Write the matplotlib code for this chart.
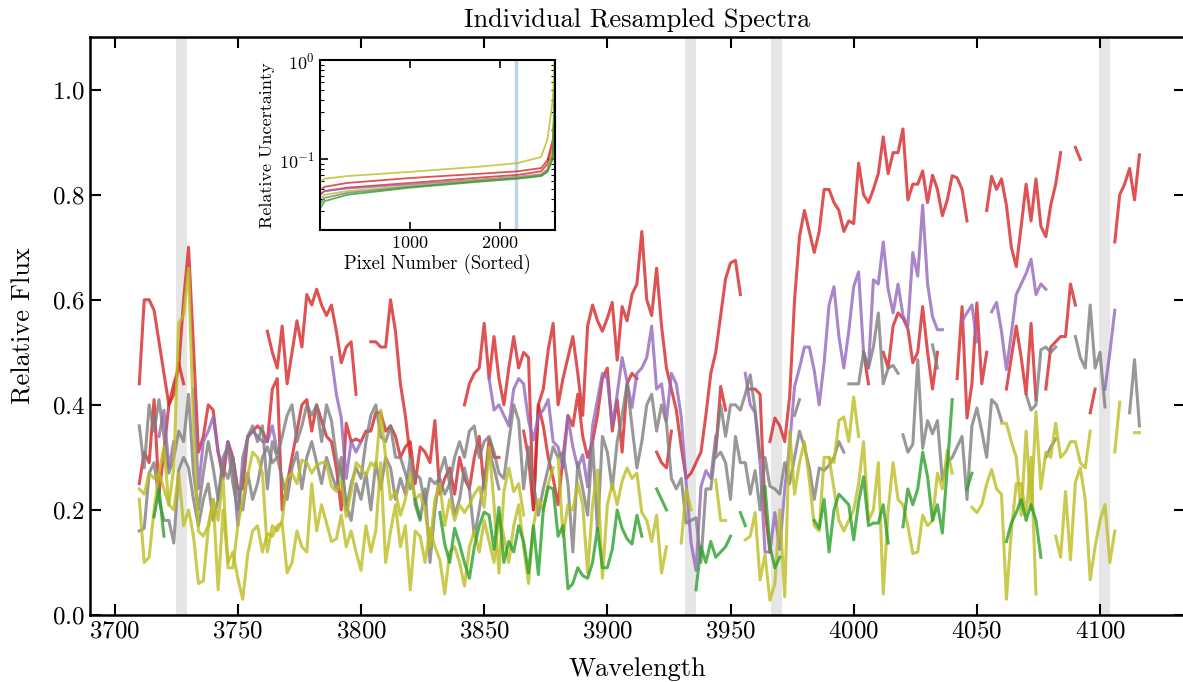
import numpy as np
import matplotlib
matplotlib.use("Agg")
import matplotlib.pyplot as plt

plt.rcParams['font.family'] = 'serif'
plt.rcParams['font.serif'] = ['cmr10']
plt.rcParams['mathtext.fontset'] = 'cm'
plt.rcParams['axes.formatter.use_mathtext'] = True

# common resampled wavelength grid (2 A steps)
wave = np.arange(3710, 4122, 2)

# each spectrum: list of (start wavelength, flux values) for the unmasked stretches
red_hi = [
    (3710, [0.44, 0.60, 0.60, 0.58, 0.52, 0.46, 0.40, 0.42, 0.48, 0.44]),
    (3762, [0.54, 0.50, 0.47, 0.55, 0.44, 0.50, 0.56, 0.51, 0.61, 0.59, 0.62, 0.59, 0.57, 0.59,
            0.54, 0.48, 0.51, 0.52, 0.42]),
    (3804, [0.52, 0.52, 0.51, 0.51, 0.60, 0.54, 0.44, 0.38, 0.30]),
    (3842, [0.40, 0.44, 0.46, 0.47, 0.555, 0.45, 0.53, 0.45, 0.40, 0.47, 0.53, 0.47, 0.50, 0.49, 0.20,
            0.40, 0.43, 0.505, 0.555, 0.40, 0.45, 0.49, 0.53, 0.46, 0.38, 0.55, 0.59, 0.56, 0.54,
            0.565, 0.595, 0.485, 0.587, 0.56, 0.61, 0.63, 0.73, 0.60, 0.57, 0.66, 0.55, 0.47, 0.43,
            0.39, 0.32, 0.26, 0.27, 0.29, 0.31, 0.38, 0.46, 0.50, 0.57, 0.64, 0.67, 0.675, 0.61]),
    (3966, [0.33, 0.375, 0.36, 0.33, 0.415, 0.60, 0.72, 0.77, 0.73, 0.69, 0.73, 0.81, 0.81, 0.785,
            0.77, 0.73, 0.75, 0.745, 0.86, 0.80, 0.785, 0.81, 0.84, 0.91, 0.84, 0.88, 0.88, 0.925,
            0.79, 0.82, 0.82, 0.845, 0.785, 0.837, 0.81, 0.76, 0.79, 0.836, 0.832, 0.81, 0.75]),
    (4054, [0.77, 0.835, 0.81, 0.83, 0.78, 0.70, 0.663, 0.74, 0.82, 0.75, 0.83, 0.74, 0.72, 0.78,
            0.82, 0.88]),
    (4090, [0.89, 0.867]),
    (4106, [0.71, 0.80, 0.82, 0.85, 0.79, 0.876]),
]

red_lo = [
    (3710, [0.25, 0.31, 0.29, 0.41, 0.23, 0.31, 0.40, 0.44, 0.47, 0.60, 0.70, 0.51, 0.31, 0.34,
            0.40, 0.39, 0.31, 0.26, 0.33, 0.30, 0.24, 0.24, 0.34, 0.35, 0.36, 0.35, 0.33, 0.43,
            0.45, 0.20, 0.25, 0.30, 0.35, 0.40, 0.41, 0.35, 0.40, 0.37, 0.34, 0.33, 0.28, 0.20,
            0.365, 0.33, 0.335, 0.33, 0.35, 0.35, 0.385, 0.385, 0.35, 0.36, 0.34, 0.30, 0.32, 0.33,
            0.25, 0.32, 0.31, 0.29, 0.37, 0.23, 0.26, 0.28, 0.23, 0.30, 0.26, 0.24, 0.30, 0.34,
            0.24, 0.335, 0.30, 0.30]),
    (3866, [0.35, 0.30, 0.20, 0.40, 0.36, 0.30, 0.26, 0.21, 0.30, 0.38, 0.36, 0.42, 0.34, 0.30,
            0.33, 0.38, 0.45, 0.47, 0.35, 0.41, 0.31, 0.44, 0.46, 0.45]),
    (3920, [0.31, 0.29, 0.28, 0.35]),
    (3944, [0.31, 0.435, 0.39]),
    (3958, [0.43, 0.43, 0.42, 0.20, 0.12]),
    (4004, [0.50, 0.44]),
    (4012, [0.50, 0.47, 0.55, 0.575, 0.565, 0.545, 0.48, 0.50, 0.587, 0.50, 0.43, 0.50]),
    (4042, [0.45, 0.587, 0.375, 0.44, 0.594, 0.44, 0.50]),
    (4062, [0.43, 0.49, 0.55, 0.49, 0.42, 0.555, 0.41]),
    (4078, [0.43, 0.51, 0.52, 0.53, 0.53, 0.63, 0.59]),
    (4096, [0.385, 0.43]),
]

purple = [
    (3718, [0.34, 0.39, 0.28, 0.33]),
    (3732, [0.43, 0.24, 0.33, 0.35, 0.377, 0.31, 0.28, 0.33, 0.28, 0.17, 0.30, 0.337, 0.35, 0.34,
            0.33, 0.33, 0.36, 0.31]),
    (3788, [0.49, 0.42, 0.375, 0.26, 0.33, 0.31, 0.33]),
    (3852, [0.45, 0.39, 0.40, 0.38, 0.36, 0.43, 0.45, 0.44, 0.37, 0.333, 0.38, 0.39, 0.41, 0.33,
            0.32, 0.28, 0.377, 0.32, 0.28, 0.305, 0.244, 0.36, 0.41, 0.46, 0.45, 0.36, 0.42, 0.49,
            0.445, 0.395, 0.46, 0.47, 0.49, 0.55, 0.43, 0.44, 0.37, 0.46, 0.44, 0.377, 0.25, 0.137,
            0.085, 0.244, 0.275, 0.26, 0.34]),
    (3956, [0.46, 0.40, 0.385, 0.29, 0.12, 0.12, 0.195, 0.125, 0.24, 0.325, 0.435, 0.47, 0.51,
            0.51, 0.465, 0.40, 0.48, 0.59, 0.625, 0.53, 0.47, 0.54, 0.625, 0.653, 0.50, 0.47, 0.638,
            0.63, 0.71, 0.62, 0.575, 0.63, 0.57, 0.55, 0.69, 0.645, 0.78, 0.63, 0.568, 0.543, 0.543]),
    (4044, [0.56, 0.575, 0.59, 0.52]),
    (4056, [0.577, 0.595, 0.54, 0.467, 0.535, 0.61, 0.63, 0.65, 0.677, 0.61, 0.63, 0.62]),
    (4102, [0.43, 0.50, 0.58]),
]

gray_a = [
    (3710, [0.36, 0.28, 0.40, 0.35, 0.41, 0.34, 0.27, 0.30, 0.35, 0.33, 0.42, 0.27, 0.20, 0.27,
            0.33, 0.28, 0.22, 0.30, 0.32, 0.25, 0.20, 0.27, 0.34, 0.36, 0.33, 0.36, 0.24, 0.33,
            0.30, 0.34, 0.38, 0.40, 0.33, 0.36, 0.40, 0.38, 0.40, 0.33, 0.40, 0.37, 0.30, 0.27,
            0.20, 0.25, 0.28, 0.26, 0.33, 0.38, 0.40, 0.34, 0.33, 0.36, 0.30, 0.30, 0.27, 0.24,
            0.27, 0.26, 0.21, 0.26, 0.25, 0.26, 0.23, 0.25, 0.30, 0.33, 0.30, 0.35, 0.36, 0.30,
            0.33, 0.34, 0.31, 0.27, 0.26, 0.33, 0.40, 0.37, 0.24, 0.32, 0.25, 0.19, 0.24, 0.28,
            0.32, 0.30, 0.31, 0.25, 0.12, 0.29, 0.24, 0.19, 0.33, 0.16, 0.34, 0.31, 0.24, 0.33,
            0.38, 0.44, 0.36, 0.28, 0.33, 0.40, 0.42, 0.35, 0.40, 0.365, 0.26, 0.24, 0.26, 0.175,
            0.18, 0.185, 0.10, 0.24, 0.24, 0.32, 0.40, 0.34, 0.40, 0.40, 0.39, 0.42, 0.457, 0.39,
            0.30]),
    (3976, [0.38, 0.41]),
    (3998, [0.44, 0.44, 0.44, 0.50, 0.47, 0.51, 0.575, 0.44, 0.47, 0.475, 0.46]),
    (4032, [0.514, 0.47]),
    (4070, [0.42, 0.39, 0.40, 0.505, 0.51, 0.50, 0.51]),
    (4090, [0.53, 0.49, 0.47, 0.59, 0.47, 0.50, 0.396]),
    (4112, [0.385, 0.486, 0.36]),
]

gray_b = [
    (3710, [0.16, 0.165, 0.27, 0.29, 0.22, 0.18, 0.18, 0.137, 0.276, 0.30, 0.28, 0.22, 0.17, 0.22,
            0.25, 0.18, 0.22, 0.28, 0.26, 0.30, 0.23, 0.20, 0.27, 0.22, 0.25, 0.30, 0.32, 0.29,
            0.30, 0.26, 0.22, 0.28, 0.31, 0.24, 0.30, 0.33, 0.29, 0.25, 0.30, 0.27, 0.24, 0.30,
            0.21, 0.18, 0.25, 0.22, 0.27, 0.20, 0.29, 0.24, 0.30, 0.28, 0.22, 0.26, 0.23, 0.30,
            0.21, 0.18, 0.24, 0.10, 0.20, 0.27, 0.30, 0.25, 0.19, 0.22, 0.28, 0.24, 0.15, 0.20,
            0.26, 0.31, 0.28, 0.24]),
    (3944, [0.30, 0.31, 0.29, 0.22, 0.34, 0.29, 0.29, 0.23, 0.275, 0.20, 0.30, 0.245, 0.24, 0.23,
            0.29, 0.25, 0.30, 0.35, 0.32, 0.28, 0.22, 0.28, 0.275, 0.285, 0.30, 0.33, 0.31]),
    (4020, [0.343, 0.31, 0.325, 0.486, 0.317, 0.37, 0.345, 0.37, 0.257, 0.29, 0.30, 0.32, 0.34,
            0.22, 0.36, 0.394, 0.35, 0.30, 0.41, 0.40, 0.37]),
    (4078, [0.30, 0.32, 0.335]),
]

yellow_a = [
    (3710, [0.24, 0.23, 0.27, 0.26, 0.27, 0.24, 0.21, 0.28, 0.556, 0.57, 0.66, 0.36, 0.16, 0.15,
            0.17, 0.22, 0.18, 0.26, 0.09, 0.09, 0.17, 0.22, 0.265, 0.31, 0.30, 0.27, 0.12, 0.17,
            0.16, 0.18, 0.26, 0.27, 0.25, 0.295, 0.29, 0.27, 0.285, 0.29, 0.29, 0.245, 0.235,
            0.255, 0.187, 0.235, 0.29, 0.28, 0.265, 0.29, 0.28, 0.39, 0.30, 0.22, 0.235, 0.19,
            0.22, 0.27, 0.22, 0.23, 0.20, 0.13, 0.22, 0.25, 0.17, 0.22, 0.18, 0.21, 0.195, 0.21,
            0.23, 0.244, 0.205, 0.32, 0.21, 0.08, 0.235, 0.28, 0.235, 0.25, 0.19]),
    (3880, [0.30, 0.15, 0.21, 0.20, 0.25, 0.21, 0.08, 0.21, 0.276, 0.07, 0.21, 0.25, 0.21, 0.255,
            0.28, 0.26, 0.27]),
    (3914, [0.195, 0.18, 0.14, 0.19, 0.08, 0.13]),
    (3930, [0.137, 0.24, 0.20]),
    (3944, [0.257, 0.18, 0.18]),
    (3956, [0.143, 0.15, 0.195, 0.067, 0.115, 0.028, 0.06, 0.20, 0.035, 0.35, 0.23, 0.29, 0.33,
            0.257, 0.17, 0.16, 0.30, 0.30, 0.29, 0.37, 0.377, 0.33, 0.415, 0.34]),
    (4060, [0.365, 0.365, 0.33, 0.30, 0.19, 0.35, 0.20, 0.387, 0.24, 0.31, 0.30, 0.365, 0.30, 0.31,
            0.33, 0.33, 0.29, 0.28, 0.35]),
    (4106, [0.31, 0.405]),
    (4114, [0.347, 0.347]),
]

yellow_b = [
    (3710, [0.22, 0.10, 0.11, 0.20, 0.27, 0.32, 0.21, 0.20, 0.27, 0.17, 0.20, 0.15, 0.06, 0.065,
            0.165, 0.22, 0.048, 0.20, 0.10, 0.12, 0.07, 0.03, 0.115, 0.16, 0.17, 0.12, 0.155, 0.15,
            0.17, 0.175, 0.08, 0.10, 0.16, 0.13, 0.12, 0.25, 0.16, 0.21, 0.175, 0.14, 0.145, 0.19,
            0.13, 0.16, 0.12, 0.085, 0.17, 0.12, 0.16, 0.29, 0.10, 0.16, 0.21, 0.13, 0.17, 0.048,
            0.16, 0.15, 0.10, 0.165, 0.13, 0.105, 0.04, 0.12, 0.13, 0.10, 0.055, 0.13, 0.16, 0.12,
            0.18, 0.14, 0.10, 0.19, 0.15, 0.10, 0.17, 0.21, 0.13, 0.06, 0.17, 0.22, 0.20, 0.25,
            0.28]),
    (3990, [0.30, 0.24, 0.18, 0.16, 0.18, 0.20, 0.25, 0.33, 0.18, 0.20, 0.29, 0.04, 0.20, 0.29,
            0.22, 0.21, 0.17, 0.117, 0.12, 0.19, 0.17, 0.18, 0.27, 0.24, 0.314, 0.27]),
    (4048, [0.205, 0.195, 0.21, 0.25, 0.277, 0.24, 0.23, 0.03, 0.16, 0.25, 0.25, 0.19, 0.30, 0.04]),
    (4082, [0.15, 0.11, 0.235, 0.105, 0.253, 0.28, 0.22, 0.067, 0.13, 0.18, 0.21, 0.10, 0.16]),
]

green = [
    (3716, [0.187, 0.24, 0.15]),
    (3822, [0.22, 0.185]),
    (3832, [0.195, 0.135, 0.10, 0.165, 0.135, 0.10, 0.07, 0.13, 0.17, 0.196, 0.19, 0.125, 0.205,
            0.10, 0.14, 0.12, 0.17, 0.14, 0.08, 0.17, 0.077, 0.20, 0.244, 0.24, 0.15, 0.17, 0.05,
            0.06, 0.09, 0.075, 0.07, 0.10, 0.165, 0.09, 0.09, 0.125, 0.20, 0.165, 0.145, 0.135,
            0.19, 0.15]),
    (3920, [0.24, 0.22, 0.20]),
    (3936, [0.048, 0.13, 0.10, 0.14, 0.11, 0.12, 0.13, 0.15]),
    (3954, [0.195, 0.17]),
    (3964, [0.244, 0.13, 0.09, 0.11]),
    (3984, [0.18, 0.165, 0.22, 0.12, 0.20, 0.23, 0.22, 0.21, 0.143, 0.215, 0.263, 0.17, 0.175,
            0.175, 0.21, 0.137]),
    (4020, [0.168, 0.24, 0.21, 0.24, 0.31, 0.263, 0.18, 0.21, 0.156, 0.28, 0.41]),
    (4046, [0.24, 0.27]),
    (4062, [0.14, 0.175, 0.195, 0.22, 0.18, 0.21, 0.18, 0.11]),
]

# masked lines: [OII], Ca K, Ca H, H-delta
mask_lines = [3727.1, 3933.7, 3968.5, 4101.7]
mask_width = 4.5

# inset: sorted relative uncertainty per spectrum
pix = [1, 50, 300, 1000, 1800, 2200, 2460, 2530, 2590, 2610]
unc_yellow_a = [0.059, 0.064, 0.068, 0.075, 0.085, 0.092, 0.106, 0.16, 0.40, 1.0]
unc_red_hi = [0.049, 0.053, 0.058, 0.065, 0.072, 0.076, 0.082, 0.098, 0.16, 0.30]
unc_red_lo = [0.044, 0.048, 0.052, 0.058, 0.066, 0.070, 0.076, 0.090, 0.14, 0.20]
unc_purple = [0.045, 0.048, 0.051, 0.056, 0.063, 0.067, 0.071, 0.080, 0.12, 0.35]
unc_yellow_b = [0.040, 0.044, 0.048, 0.054, 0.062, 0.066, 0.070, 0.078, 0.13, 0.55]
unc_gray = [0.036, 0.041, 0.046, 0.053, 0.061, 0.065, 0.069, 0.076, 0.11, 0.40]
unc_green = [0.032, 0.038, 0.044, 0.052, 0.060, 0.064, 0.068, 0.075, 0.10, 0.50]
pix_cut = 2180


def fill(segments):
    flux = np.full(wave.size, np.nan)
    for start, vals in segments:
        i = (start - 3710) // 2
        flux[i:i + len(vals)] = vals
    return flux


RED, PURPLE, GRAY, OLIVE, GREEN = '#d62728', '#9467bd', '#7f7f7f', '#bcbd22', '#2ca02c'

fig = plt.figure(figsize=(11.83, 6.82), dpi=100)
# right spine sits just past the image edge, as in the original
ax = fig.add_axes([0.0761, 0.0982, 0.9256, 0.8475])

for c in mask_lines:
    ax.axvspan(c - mask_width / 2, c + mask_width / 2, color='0.9', lw=0, zorder=0)

spectra = [(red_hi, RED), (red_lo, RED), (purple, PURPLE), (gray_a, GRAY), (gray_b, GRAY),
           (yellow_a, OLIVE), (yellow_b, OLIVE), (green, GREEN)]
for segs, col in spectra:
    ax.plot(wave, fill(segs), color=col, lw=2.2, alpha=0.8)

ax.set_xlim(3690, 4134.5)
ax.set_ylim(0, 1.1)
ax.set_xticks(np.arange(3700, 4101, 50))
ax.set_yticks(np.arange(0, 1.01, 0.2))
ax.tick_params(direction='in', top=True, right=True, length=8, width=1.5, labelsize=18)
for s in ax.spines.values():
    s.set_linewidth(1.8)
ax.set_title('Individual Resampled Spectra', fontsize=19, pad=7)
ax.set_xlabel('Wavelength', fontsize=19, labelpad=11)
ax.set_ylabel('Relative Flux', fontsize=19, labelpad=12)

# inset
axin = fig.add_axes([0.2705, 0.6628, 0.1987, 0.249])
axin.axvline(pix_cut, color='#1f77b4', alpha=0.3, lw=2.5)
for u, col in [(unc_yellow_a, OLIVE), (unc_red_hi, RED), (unc_red_lo, RED), (unc_purple, PURPLE),
               (unc_yellow_b, OLIVE), (unc_gray, GRAY), (unc_green, GREEN)]:
    axin.plot(pix, u, color=col, lw=1.3, alpha=0.8)
axin.set_yscale('log')
axin.set_xlim(0, 2615)
axin.set_ylim(0.0195, 1.0)
axin.set_xticks([1000, 2000])
axin.tick_params(which='both', direction='in', top=True, right=True, labelsize=13)
axin.tick_params(which='major', length=6, width=1.2)
axin.tick_params(which='minor', length=3, width=0.8)
for s in axin.spines.values():
    s.set_linewidth(1.5)
axin.set_xlabel('Pixel Number (Sorted)', fontsize=13.5, labelpad=2)
axin.set_ylabel('Relative Uncertainty', fontsize=13, labelpad=3)

fig.savefig('out.png', dpi=100)
